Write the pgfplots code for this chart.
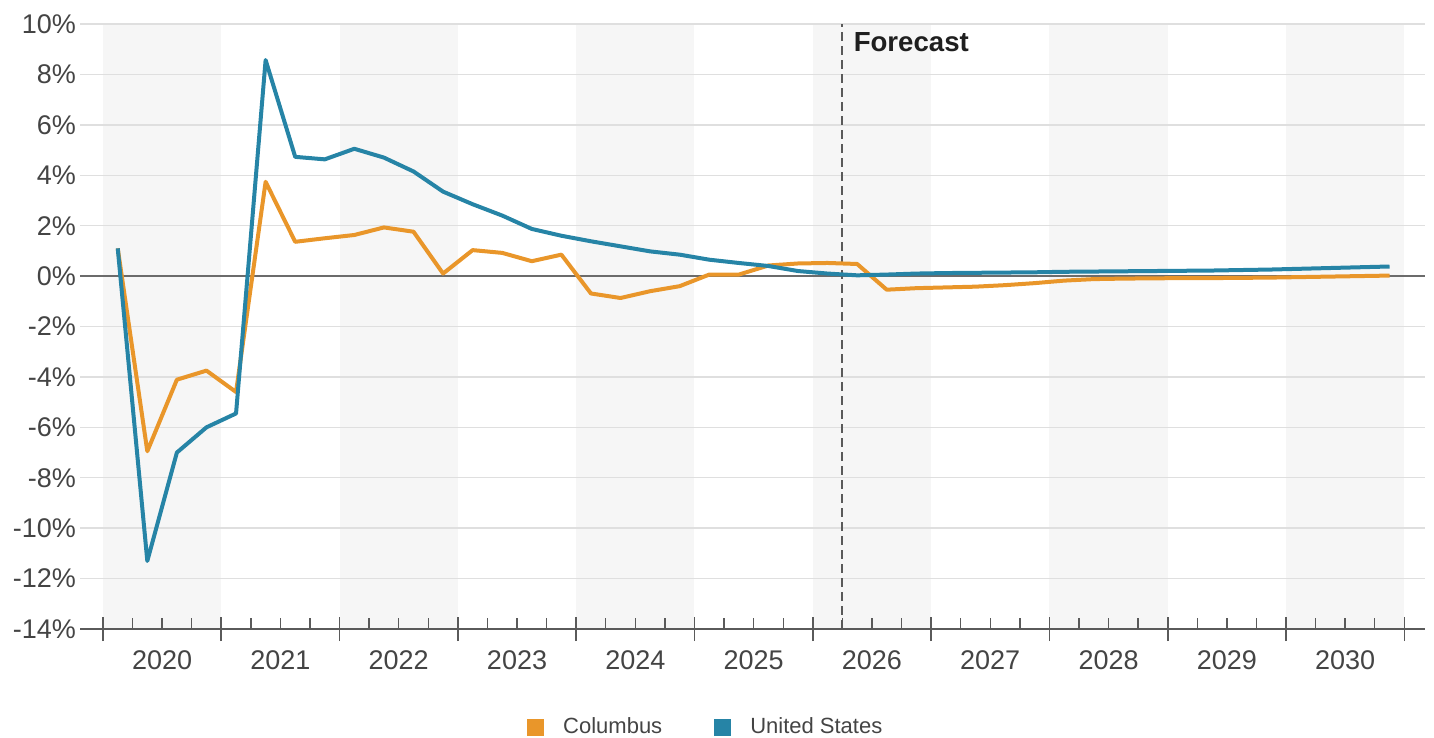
\documentclass[border=0pt]{standalone}
\usepackage{pgfplots}
\pgfplotsset{compat=1.18}
\usepackage{fontspec}
\setmainfont{Liberation Sans}
\definecolor{colOrange}{HTML}{E9962A}
\definecolor{colBlue}{HTML}{2684A6}
\definecolor{band}{HTML}{F6F6F6}
\definecolor{gridc}{HTML}{DFDFDF}
\definecolor{axisc}{HTML}{5A5A5A}
\definecolor{labc}{HTML}{444444}
\begin{document}
\begin{tikzpicture}
\begin{axis}[
  set layers,
  at={(0,0)}, anchor=south west,
  scale only axis, width=672.5pt, height=302.5pt,
  xmin=2019.806, xmax=2031.175, ymin=-14, ymax=10,
  axis x line*=bottom, axis y line*=left,
  y axis line style={draw=none},
  x axis line style={axisc, line width=0.8pt},
  /pgf/number format/assume math mode=true,
  ytick={-14,-12,...,10},
  yticklabel={\pgfmathprintnumber{\tick}\%},
  ytick style={draw=none},
  yticklabel style={font=\fontsize{13.5}{15}\selectfont, text=labc, xshift=1.5pt},
  ymajorgrids, major grid style={gridc, line width=0.7pt},
  xtick={2020.5,2021.5,2022.5,2023.5,2024.5,2025.5,2026.5,2027.5,2028.5,2029.5,2030.5},
  xticklabels={2020,2021,2022,2023,2024,2025,2026,2027,2028,2029,2030},
  xticklabel style={font=\fontsize{13.5}{15}\selectfont, text=labc, yshift=-7.5pt},
  major tick length=0pt,
  minor tick length=5.5pt,
  tick align=inside,
  minor xtick={2020.25,2020.5,2020.75,2021.25,2021.5,2021.75,2022.25,2022.5,2022.75,2023.25,2023.5,2023.75,2024.25,2024.5,2024.75,2025.25,2025.5,2025.75,2026.25,2026.5,2026.75,2027.25,2027.5,2027.75,2028.25,2028.5,2028.75,2029.25,2029.5,2029.75,2030.25,2030.5,2030.75},
  xtick style={axisc, line width=0.7pt},
  extra x ticks={2020,2021,2022,2023,2024,2025,2026,2027,2028,2029,2030,2031},
  extra x tick labels={},
  extra x tick style={major tick length=12pt, tick align=center, xtick style={axisc, line width=0.8pt}},
  legend style={at={(rel axis cs:0.466,-0.162)}, anchor=center, draw=none, fill=none,
    legend columns=2, font=\fontsize{11}{13}\selectfont, text=labc,
    /tikz/every even column/.append style={column sep=24pt}},
  legend image code/.code={\fill[#1, draw=none] (0pt,-4.25pt) rectangle (8.5pt,4.25pt); \path[draw=none, fill=none] (8.5pt,0pt) -- (16pt,0pt);},
  clip=false,
]
\begin{pgfonlayer}{axis background}
\fill[band] (axis cs:2020,-14) rectangle (axis cs:2021,10);
\fill[band] (axis cs:2022,-14) rectangle (axis cs:2023,10);
\fill[band] (axis cs:2024,-14) rectangle (axis cs:2025,10);
\fill[band] (axis cs:2026,-14) rectangle (axis cs:2027,10);
\fill[band] (axis cs:2028,-14) rectangle (axis cs:2029,10);
\fill[band] (axis cs:2030,-14) rectangle (axis cs:2031,10);
\end{pgfonlayer}
\draw[axisc!90, line width=1pt] (axis cs:2019.806,0) -- (axis cs:2031.175,0);
\draw[axisc, line width=1pt, dash pattern=on 4.5pt off 2.5pt] (axis cs:2026.25,-14) -- (axis cs:2026.25,10);
\node[anchor=west, inner sep=0pt, xshift=5.5pt, font=\bfseries\fontsize{13.8}{15}\selectfont, text=black!88] at (axis cs:2026.25,9.3) {Forecast};

\addplot[color=colOrange, line width=2pt, line join=round, no markers] coordinates {
(2020.125,1.1) (2020.375,-6.95) (2020.625,-4.11) (2020.875,-3.75)
(2021.125,-4.6) (2021.375,3.74) (2021.625,1.36) (2021.875,1.5)
(2022.125,1.63) (2022.375,1.93) (2022.625,1.76) (2022.875,0.1)
(2023.125,1.03) (2023.375,0.92) (2023.625,0.59) (2023.875,0.85)
(2024.125,-0.69) (2024.375,-0.87) (2024.625,-0.6) (2024.875,-0.4)
(2025.125,0.06) (2025.375,0.06) (2025.625,0.42) (2025.875,0.5)
(2026.125,0.52) (2026.375,0.48) (2026.625,-0.54) (2026.875,-0.48)
(2027.125,-0.45) (2027.375,-0.42) (2027.625,-0.36) (2027.875,-0.28)
(2028.125,-0.18) (2028.375,-0.12) (2028.625,-0.1) (2028.875,-0.09)
(2029.125,-0.08) (2029.375,-0.08) (2029.625,-0.07) (2029.875,-0.06)
(2030.125,-0.04) (2030.375,-0.02) (2030.625,0.0) (2030.875,0.02)
};
\addlegendentry{Columbus}
\addplot[color=colBlue, line width=2pt, line join=round, no markers] coordinates {
(2020.125,1.1) (2020.375,-11.3) (2020.625,-7.0) (2020.875,-6.0)
(2021.125,-5.45) (2021.375,8.57) (2021.625,4.73) (2021.875,4.63)
(2022.125,5.05) (2022.375,4.7) (2022.625,4.15) (2022.875,3.35)
(2023.125,2.85) (2023.375,2.4) (2023.625,1.87) (2023.875,1.6)
(2024.125,1.38) (2024.375,1.18) (2024.625,0.98) (2024.875,0.85)
(2025.125,0.65) (2025.375,0.52) (2025.625,0.4) (2025.875,0.2)
(2026.125,0.1) (2026.375,0.03) (2026.625,0.06) (2026.875,0.1)
(2027.125,0.12) (2027.375,0.13) (2027.625,0.14) (2027.875,0.15)
(2028.125,0.17) (2028.375,0.18) (2028.625,0.19) (2028.875,0.2)
(2029.125,0.21) (2029.375,0.22) (2029.625,0.24) (2029.875,0.26)
(2030.125,0.29) (2030.375,0.32) (2030.625,0.35) (2030.875,0.38)
};
\addlegendentry{United States}
\end{axis}
\pgfresetboundingbox
\path[use as bounding box] (-40pt,-54.5pt) rectangle (677pt,314.5pt);
\end{tikzpicture}
\end{document}
